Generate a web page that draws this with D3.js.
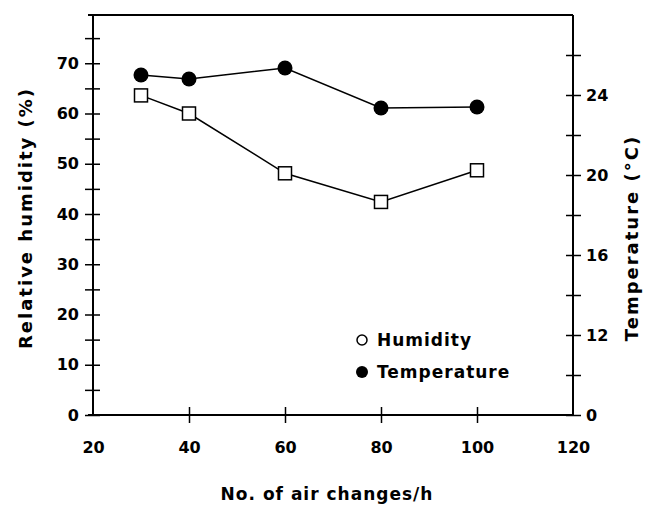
<!DOCTYPE html>
<html>
<head>
<meta charset="utf-8">
<script src="https://cdn.jsdelivr.net/npm/d3@7"></script>
<style>
  body { margin: 0; background: #fff; }
  text { font-family: "DejaVu Sans", sans-serif; fill: #000; font-weight: bold; }
</style>
</head>
<body>
<div id="chart"></div>
<script>
// values
var airChanges = [30, 40, 60, 80, 100];
var humidity = [63.6, 60, 48.1, 42.4, 48.7];
var temperature = [25.0, 24.8, 25.35, 23.35, 23.4];

var xTicks = [20, 40, 60, 80, 100, 120];
var humTicks = [0, 5, 10, 15, 20, 25, 30, 35, 40, 45, 50, 55, 60, 65, 70, 75];
var humLabels = [0, 10, 20, 30, 40, 50, 60, 70];
var tempTicks = [0, 10, 12, 14, 16, 18, 20, 22, 24, 26];
var tempLabels = [0, 12, 16, 20, 24];

var W = 652, H = 508;
var layout = {top: 15, bottom: 93, left: 93, right: 79};
var plotW = W - layout.left - layout.right;
var plotH = H - layout.top - layout.bottom;

var svg = d3.select("#chart")
  .append("svg")
  .attr("width", W)
  .attr("height", H);

var g = svg.append("g")
  .attr("transform", "translate(" + layout.left + "," + layout.top + ")");

var x = d3.scaleLinear().domain([20, 120]).range([0, plotW]);
var yHum = d3.scaleLinear().domain([0, 80]).range([plotH, -2]);
// right axis is broken between 0 and 10
var yTemp = d3.scaleLinear().domain([0, 10, 28]).range([plotH, plotH - 40, 0]);

// frame
g.append("line").attr("x1", -5).attr("x2", plotW).attr("y1", 0).attr("y2", 0)
  .attr("stroke", "#000").attr("stroke-width", 2);

// bottom axis
var xAxis = g.append("g")
  .attr("transform", "translate(0," + plotH + ")")
  .call(d3.axisBottom(x).tickValues(xTicks).tickSize(0).tickPadding(27));
xAxis.select(".domain").attr("stroke-width", 2).attr("d", "M-5,0H" + plotW);
xAxis.selectAll("text").style("font-size", "16px");
xAxis.selectAll(".tick").filter(function(d) { return d > 20 && d < 120; })
  .append("line").attr("y1", -8).attr("y2", 8).attr("stroke", "#000").attr("stroke-width", 1.5);

// left axis
var yAxisL = g.append("g")
  .call(d3.axisLeft(yHum).tickValues(humTicks).tickSize(8).tickPadding(6)
    .tickFormat(function(d) { return humLabels.indexOf(d) >= 0 ? d : ""; }));
yAxisL.select(".domain").attr("stroke-width", 2).attr("d", "M0," + plotH + "V0");
yAxisL.selectAll(".tick line").attr("x2", -8).attr("x1", 7).attr("stroke-width", 1.5);
yAxisL.selectAll("text").style("font-size", "16px");

// right axis
var yAxisR = g.append("g")
  .attr("transform", "translate(" + plotW + ",0)")
  .call(d3.axisRight(yTemp).tickValues(tempTicks).tickSize(8).tickPadding(5)
    .tickFormat(function(d) { return tempLabels.indexOf(d) >= 0 ? d : ""; }));
yAxisR.select(".domain").attr("stroke-width", 2).attr("d", "M0," + plotH + "V0");
yAxisR.selectAll(".tick line").attr("x1", -7).attr("x2", 8).attr("stroke-width", 1.5);
yAxisR.selectAll("text").style("font-size", "16px");

// lines
var humLine = d3.line()
  .x(function(d, i) { return x(airChanges[i]); })
  .y(function(d) { return yHum(d); });
var tempLine = d3.line()
  .x(function(d, i) { return x(airChanges[i]); })
  .y(function(d) { return yTemp(d); });

g.append("path").datum(humidity).attr("d", humLine)
  .attr("fill", "none").attr("stroke", "#000").attr("stroke-width", 1.5);
g.append("path").datum(temperature).attr("d", tempLine)
  .attr("fill", "none").attr("stroke", "#000").attr("stroke-width", 1.5);

g.selectAll(".hum")
  .data(humidity)
  .enter()
  .append("rect")
  .attr("x", function(d, i) { return x(airChanges[i]) - 6.5; })
  .attr("y", function(d) { return yHum(d) - 6.5; })
  .attr("width", 13)
  .attr("height", 13)
  .attr("fill", "#fff")
  .attr("stroke", "#000")
  .attr("stroke-width", 1.5);

g.selectAll(".temp")
  .data(temperature)
  .enter()
  .append("circle")
  .attr("cx", function(d, i) { return x(airChanges[i]); })
  .attr("cy", function(d) { return yTemp(d); })
  .attr("r", 7.5)
  .attr("fill", "#000");

// legend
var leg = svg.append("g");
leg.append("circle").attr("cx", 362).attr("cy", 340).attr("r", 5)
  .attr("fill", "#fff").attr("stroke", "#000").attr("stroke-width", 1.5);
leg.append("text").attr("x", 377).attr("y", 346).style("font-size", "17px")
  .style("letter-spacing", "1px").text("Humidity");
leg.append("circle").attr("cx", 362).attr("cy", 372).attr("r", 6).attr("fill", "#000");
leg.append("text").attr("x", 377).attr("y", 378).style("font-size", "17px")
  .style("letter-spacing", "1px").text("Temperature");

// axis titles
svg.append("text")
  .attr("text-anchor", "middle")
  .attr("transform", "translate(32,218)rotate(-90)")
  .style("font-size", "18px")
  .style("letter-spacing", "2px")
  .text("Relative humidity (%)");

svg.append("text")
  .attr("text-anchor", "middle")
  .attr("transform", "translate(638,238)rotate(-90)")
  .style("font-size", "18px")
  .style("letter-spacing", "2px")
  .text("Temperature (\u00B0C)");

svg.append("text")
  .attr("text-anchor", "middle")
  .attr("x", 327)
  .attr("y", 500)
  .style("font-size", "17px")
  .style("letter-spacing", "1px")
  .text("No. of air changes/h");
</script>
</body>
</html>
